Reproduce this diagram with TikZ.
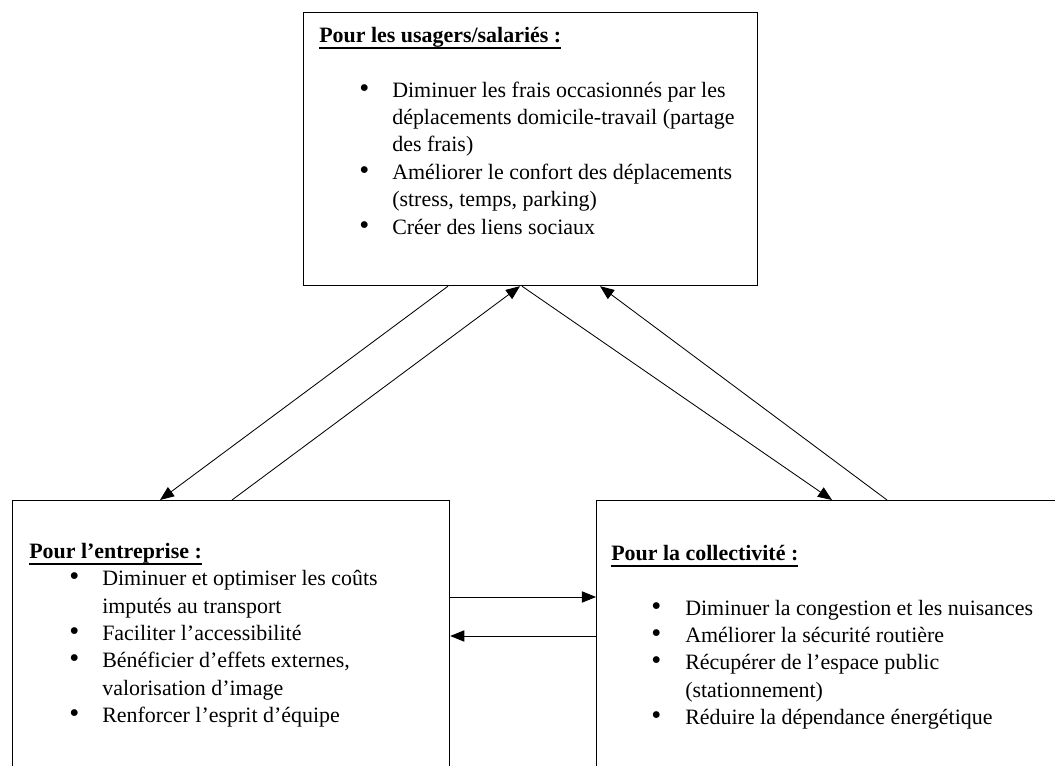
\documentclass[tikz,border=0pt]{standalone}
\usepackage{fontspec}
\setmainfont{Liberation Serif}
\usetikzlibrary{arrows.meta,positioning,calc}

% titre gras souligne
\newcommand{\titre}[1]{\setbox0=\hbox{\bfseries #1}\rlap{\rule[-5pt]{\wd0}{1.4pt}}\box0}
% puce
\newcommand{\puce}{\scalebox{1.3}{\textbullet}}

\begin{document}
\begin{tikzpicture}[x=0.025cm, y=0.025cm,
  cadre/.style={draw, line width=0.8pt, anchor=north west, inner sep=0pt},
  texte/.style={anchor=north west, inner sep=0pt, font=\fontsize{15.6}{19.5}\selectfont},
  fleche/.style={line width=0.6pt, -{Triangle[length=10pt, width=8pt]}}]
\useasboundingbox (0,0) rectangle (1055,765);
\clip (0,0) rectangle (1055,765);

% cadres
\node[cadre, minimum width=11.35cm, minimum height=6.825cm] (usagers) at (303,753) {};
\node[cadre, minimum width=10.925cm, minimum height=7.25cm] (entreprise) at (12,265) {};
\node[cadre, minimum width=11.85cm, minimum height=7.25cm] (collectivite) at (596,265) {};

% textes
\node[texte] (usagersT) at ($(usagers.north west)+(16,-10.7)$) {%
\begin{tabular}{@{\hspace{1cm}}p{0.825cm}@{}l@{}}
\multicolumn{2}{@{}l@{}}{\titre{Pour les usagers/salariés :}}\\
\\
\puce & Diminuer les frais occasionnés par les\\
 & déplacements domicile-travail (partage\\
 & des frais)\\
\puce & Améliorer le confort des déplacements\\
 & (stress, temps, parking)\\
\puce & Créer des liens sociaux
\end{tabular}};

\node[texte] (entrepriseT) at ($(entreprise.north west)+(17,-38.7)$) {%
\begin{tabular}{@{\hspace{1cm}}p{0.825cm}@{}l@{}}
\multicolumn{2}{@{}l@{}}{\titre{Pour l’entreprise :}}\\
\puce & Diminuer et optimiser les coûts\\
 & imputés au transport\\
\puce & Faciliter l’accessibilité\\
\puce & Bénéficier d’effets externes,\\
 & valorisation d’image\\
\puce & Renforcer l’esprit d’équipe
\end{tabular}};

\node[texte] (collectiviteT) at ($(collectivite.north west)+(15,-40.7)$) {%
\begin{tabular}{@{\hspace{1cm}}p{0.85cm}@{}l@{}}
\multicolumn{2}{@{}l@{}}{\titre{Pour la collectivité :}}\\
\\
\puce & Diminuer la congestion et les nuisances\\
\puce & Améliorer la sécurité routière\\
\puce & Récupérer de l’espace public\\
 & (stationnement)\\
\puce & Réduire la dépendance énergétique
\end{tabular}};

% fleches
\draw[fleche] ($(usagers.south west)+(145,0)$) -- ($(entreprise.north west)+(148,0)$);
\draw[fleche] ($(entreprise.north west)+(220,0)$) -- ($(usagers.south west)+(217,0)$);
\draw[fleche] ($(usagers.south west)+(219,0)$) -- ($(collectivite.north west)+(236,0)$);
\draw[fleche] ($(collectivite.north west)+(291,0)$) -- ($(usagers.south west)+(297,0)$);
\draw[fleche] ($(entreprise.north east)+(0,-97)$) -- ($(collectivite.north west)+(0,-97)$);
\draw[fleche] ($(collectivite.north west)+(0,-136)$) -- ($(entreprise.north east)+(0,-136)$);
\end{tikzpicture}
\end{document}
